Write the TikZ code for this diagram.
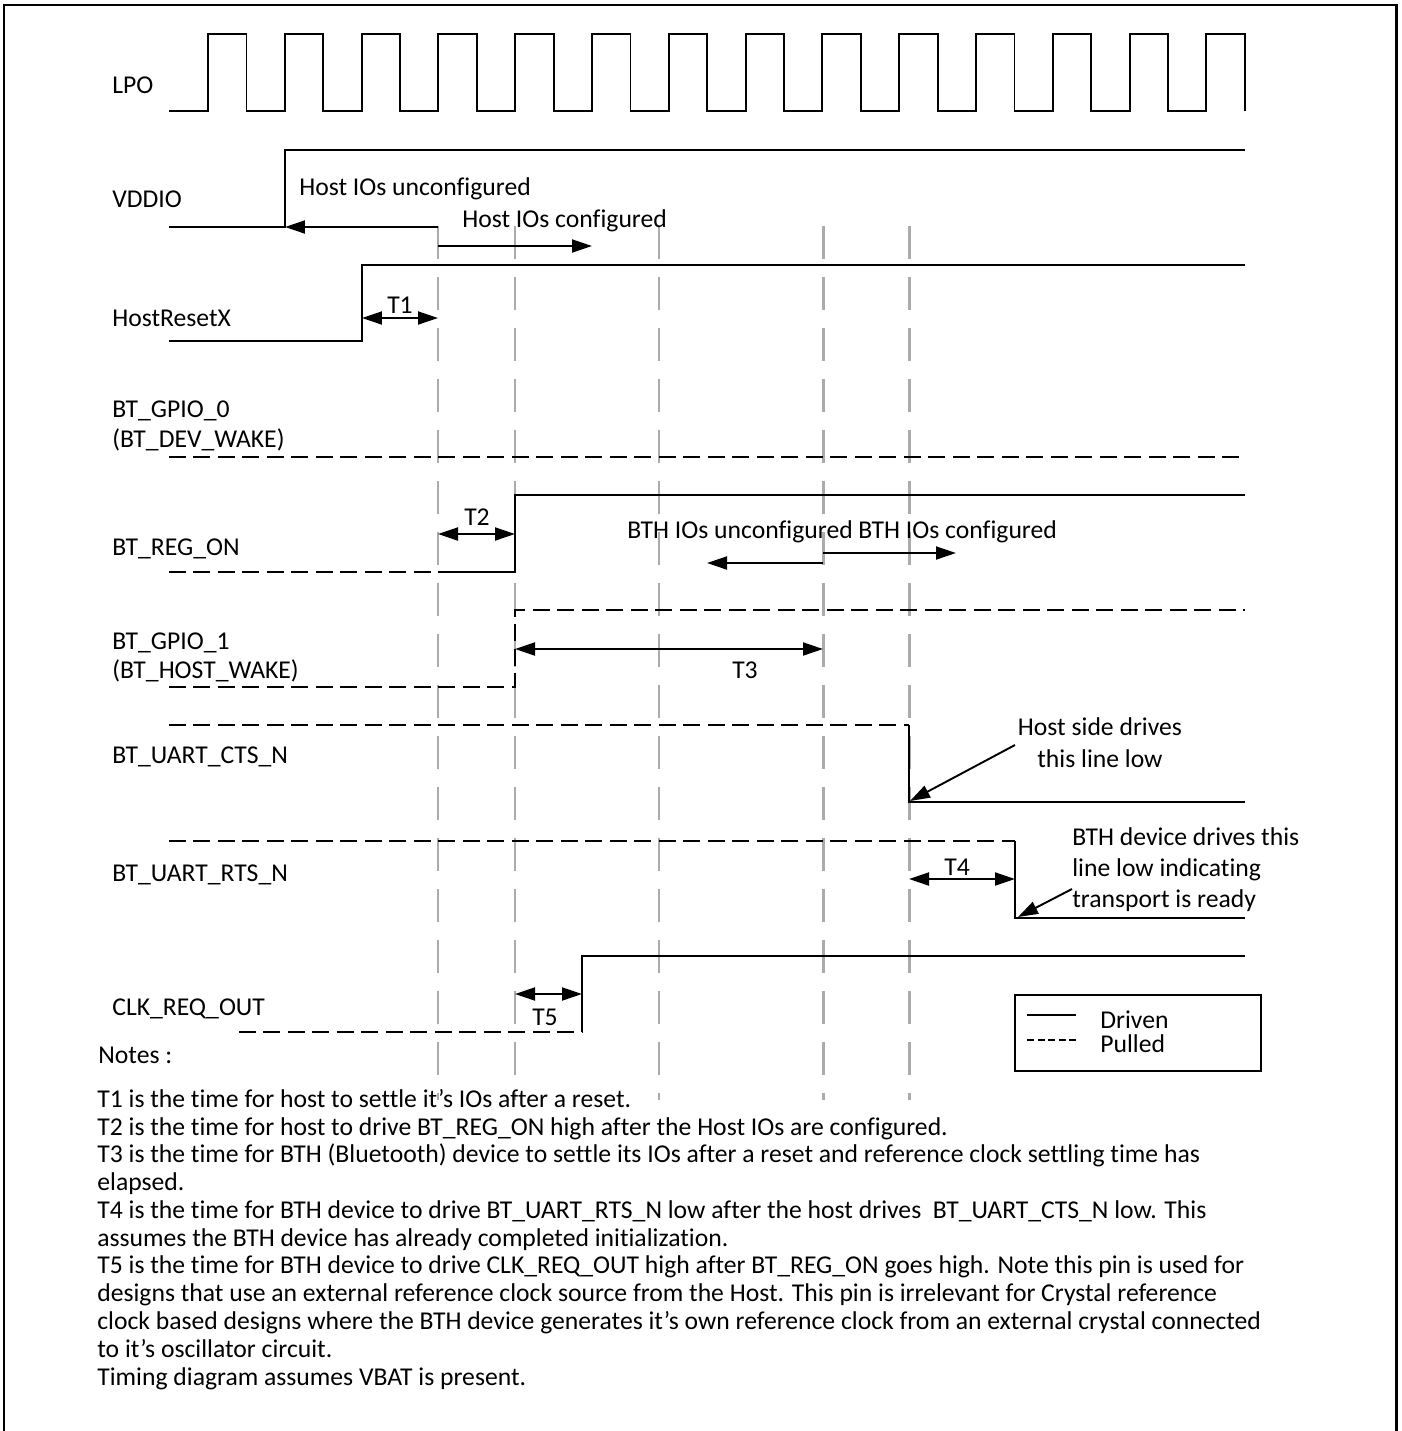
\documentclass[tikz,border=0pt]{standalone}
\usepackage{fontspec}
\setmainfont{Carlito}[Ligatures=NoCommon]
\usetikzlibrary{arrows.meta, positioning}

\tikzset{
  sig/.style={line width=1.1pt},
  pull/.style={line width=1.6pt, dash pattern=on 0.34cm off 0.15cm},
  guide/.style={line width=1.7pt, black!33, dash pattern=on 0.66cm off 0.36cm},
  tip/.style={line width=1.1pt, -{Triangle[length=4mm,width=2.6mm]}},
  twoway/.style={line width=1.1pt, {Triangle[length=4mm,width=2.6mm]}-{Triangle[length=4mm,width=2.6mm]}},
  lbl/.style={anchor=base west, inner sep=0pt},
  tlbl/.style={anchor=base, inner sep=0pt}
}

\begin{document}
\begin{tikzpicture}[x=0.02cm, y=-0.02cm, font=\fontsize{14.6pt}{16pt}\selectfont]
        \useasboundingbox (0,0) rectangle (1401,1431);
        \draw[line width=1.7pt] (4,1431) -- (4,5) -- (1396,5) -- (1396,1431);

        % time markers
        \foreach \t in {438,515,659,823,909}
            \draw[guide] (\t,226) -- (\t,1100);

        % signal names
        \node[lbl] (lpo) at (112,93) {LPO};
        \node[lbl] (vddio) at (112,207) {VDDIO};
        \node[lbl] (hrst) at (112,326) {HostResetX};
        \node[lbl] (gpio0) at (112,417) {BT\_GPIO\_0};
        \node[lbl] (devwake) at (112,447) {(BT\_DEV\_WAKE)};
        \node[lbl] (regon) at (112,555) {BT\_REG\_ON};
        \node[lbl] (gpio1) at (112,649) {BT\_GPIO\_1};
        \node[lbl] (hostwake) at (112,678) {(BT\_HOST\_WAKE)};
        \node[lbl] (cts) at (112,763) {BT\_UART\_CTS\_N};
        \node[lbl] (rts) at (112,881) {BT\_UART\_RTS\_N};
        \node[lbl] (clkreq) at (112,1015) {CLK\_REQ\_OUT};

        % LPO clock
        \draw[sig] (169,111) \foreach \k in {0,...,13} {
            -- ({208+76.8*\k},111) -- ({208+76.8*\k},34) -- ({246.5+76.8*\k},34) -- ({246.5+76.8*\k},111) };

        % VDDIO and HostResetX
        \draw[sig] (169,227) -- (285,227) -- (285,150) -- (1245,150);
        \draw[sig] (169,341) -- (362,341) -- (362,265) -- (1245,265);
        \coordinate (vup) at (285,227);
        \coordinate (hio) at (438,227);
        \coordinate (hioc) at (438,246);
        \coordinate (hiocend) at (592,246);
        \draw[tip] (hio) -- (vup);
        \draw[tip] (hioc) -- (hiocend);
        \node[lbl] (hunc) at (299,195) {Host IOs unconfigured};
        \node[lbl] (hcfg) at (462,227) {Host IOs configured};
        \coordinate (t1a) at (362,318);
        \coordinate (t1b) at (438,318);
        \draw[twoway] (t1a) -- (t1b);
        \node[tlbl] (t1) at (400,313) {T1};

        % BT_GPIO_0 and BT_REG_ON
        \draw[pull] (169,457) -- (1245,457);
        \draw[pull] (169,572) -- (438,572);
        \draw[sig] (438,572) -- (515,572) -- (515,495) -- (1245,495);
        \coordinate (t2a) at (438,534);
        \coordinate (t2b) at (515,534);
        \draw[twoway] (t2a) -- (t2b);
        \node[tlbl] (t2) at (477,525) {T2};
        \node[lbl] (bunc) at (627,538) {BTH IOs unconfigured};
        \node[lbl] (bcfg) at (858,538) {BTH IOs configured};
        \coordinate (bio) at (823,563);
        \coordinate (biounc) at (707,563);
        \coordinate (bioc) at (823,553);
        \coordinate (biocend) at (956,553);
        \draw[tip] (bio) -- (biounc);
        \draw[tip] (bioc) -- (biocend);

        % BT_GPIO_1
        \draw[pull] (169,687) -- (515,687) -- (515,610) -- (1245,610);
        \coordinate (t3a) at (515,649);
        \coordinate (t3b) at (823,649);
        \draw[twoway] (t3a) -- (t3b);
        \node[tlbl] (t3) at (745,678) {T3};

        % UART handshake
        \draw[pull] (169,725) -- (909,725);
        \draw[sig] (909,725) -- (909,802) -- (1245,802);
        \draw[pull] (169,841) -- (1015,841);
        \draw[sig] (1015,841) -- (1015,918) -- (1245,918);
        \node[align=center, inner sep=0pt, anchor=base, font=\fontsize{14.6pt}{18pt}\selectfont] (hostnote) at (1100,767) {Host side drives\\this line low};
        \coordinate (ctslow) at (910,801);
        \draw[tip] (1015,745) -- (ctslow);
        \node[align=left, inner sep=0pt, anchor=base west, font=\fontsize{14.6pt}{17.6pt}\selectfont] (bthnote) at (1072,907) {BTH device drives this\\line low indicating\\transport is ready};
        \coordinate (rtslow) at (1018,917);
        \draw[tip] (1072,889) -- (rtslow);
        \coordinate (t4a) at (909,879);
        \coordinate (t4b) at (1015,879);
        \draw[twoway] (t4a) -- (t4b);
        \node[tlbl] (t4) at (957,875) {T4};

        % CLK_REQ_OUT
        \draw[pull] (239,1032) -- (582,1032);
        \draw[sig] (582,1032) -- (582,956) -- (1245,956);
        \coordinate (t5a) at (515,994);
        \coordinate (t5b) at (582,994);
        \draw[twoway] (t5a) -- (t5b);
        \node[tlbl] (t5) at (545,1025) {T5};

        % legend
        \draw[sig] (1015,995) rectangle (1261,1071);
        \draw[sig] (1027,1015) -- (1076,1015);
        \draw[line width=1.3pt, dash pattern=on 0.14cm off 0.07cm] (1027,1040) -- (1076,1040);
        \node[lbl] (driven) at (1100,1028) {Driven};
        \node[lbl] (pulled) at (1100,1052) {Pulled};

        % notes
        \node[lbl] (notes) at (98,1063) {Notes :};
        \node[align=left, inner sep=0pt, anchor=base west, font=\fontsize{14.6pt}{15.8pt}\selectfont] (notetext) at (97,1385) {T1 is the time for host to settle it’s IOs after a reset.\\
T2 is the time for host to drive BT\_REG\_ON high after the Host IOs are configured.\\
T3 is the time for BTH (Bluetooth) device to settle its IOs after a reset and reference clock settling time has\\
elapsed.\\
T4 is the time for BTH device to drive BT\_UART\_RTS\_N low after the host drives~ BT\_UART\_CTS\_N low. This\\
assumes the BTH device has already completed initialization.\\
T5 is the time for BTH device to drive CLK\_REQ\_OUT high after BT\_REG\_ON goes high. Note this pin is used for\\
designs that use an external reference clock source from the Host. This pin is irrelevant for Crystal reference\\
clock based designs where the BTH device generates it’s own reference clock from an external crystal connected\\
to it’s oscillator circuit.\\
Timing diagram assumes VBAT is present.};
    \end{tikzpicture}
\end{document}
